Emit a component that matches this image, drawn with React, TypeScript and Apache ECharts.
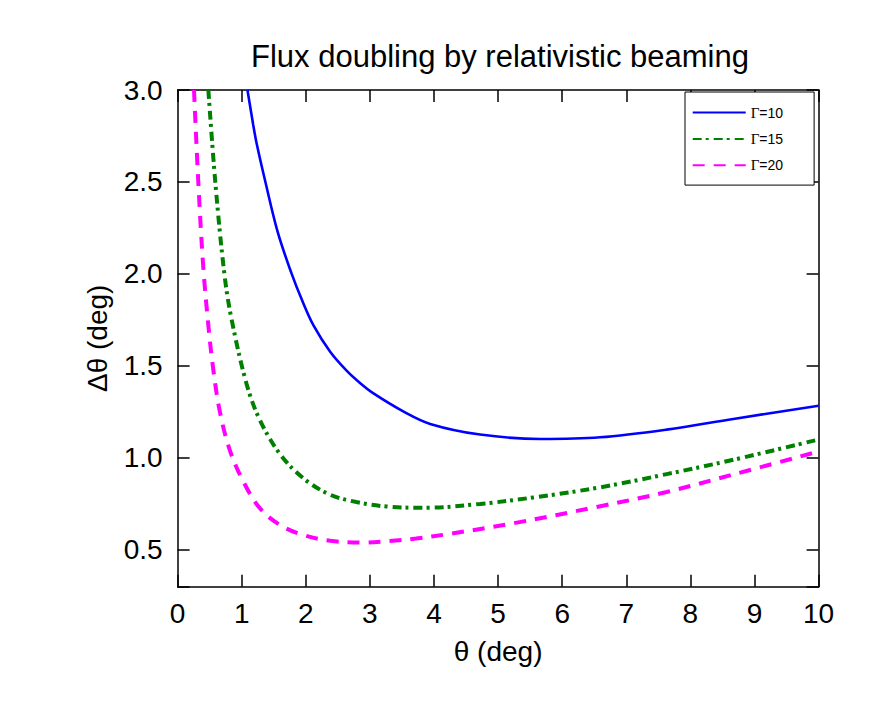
import React, { useEffect, useRef } from "react";
import * as echarts from "echarts";

// theta (deg) vs delta-theta (deg)
const gamma10: [number, number][] = [
  [1.09, 3.0], [1.18, 2.81], [1.23, 2.715], [1.37, 2.5], [1.56, 2.23], [1.77, 2.01],
  [1.95, 1.85], [2.12, 1.72], [2.38, 1.577], [2.64, 1.473], [2.85, 1.406], [3.05, 1.352],
  [3.52, 1.253], [3.94, 1.185], [4.72, 1.127], [5.66, 1.103], [6.59, 1.112],
  [7.63, 1.154], [8.67, 1.212], [10.0, 1.284],
];
const gamma15: [number, number][] = [
  [0.48, 3.0], [0.588, 2.5], [0.73, 2.0], [0.844, 1.75], [1.078, 1.4],
  [1.285, 1.205], [1.6, 1.02], [1.96, 0.89], [2.38, 0.8], [2.79, 0.76],
  [3.26, 0.736], [3.85, 0.729], [4.72, 0.75], [5.55, 0.785], [6.59, 0.84],
  [7.63, 0.912], [8.67, 0.99], [10.0, 1.1],
];
const gamma20: [number, number][] = [
  [0.256, 3.0], [0.323, 2.5], [0.4, 2.04], [0.48, 1.72], [0.557, 1.48],
  [0.66, 1.25], [0.817, 1.04], [1.025, 0.872], [1.285, 0.726], [1.6, 0.635],
  [1.96, 0.581], [2.38, 0.55], [2.85, 0.54], [3.31, 0.548], [3.72, 0.562],
  [4.2, 0.585], [5.24, 0.645], [6.56, 0.735], [7.63, 0.815], [8.67, 0.91],
  [10.0, 1.035],
];
const seriesNames = ["Γ=10", "Γ=15", "Γ=20"];
const seriesColors = ["#0000ff", "#008000", "#ff00ff"];
const xTicks = [0, 1, 2, 3, 4, 5, 6, 7, 8, 9, 10];

const FONT = "Liberation Sans, Arial, Helvetica, sans-serif";

const frameLine = () => ({ show: true, onZero: false, lineStyle: { color: "#000", width: 1.5 } });
const innerTick = () => ({ show: true, inside: true, length: 12, lineStyle: { color: "#000", width: 1.5 } });

export default function App() {
  const ref = useRef<HTMLDivElement>(null);
  useEffect(() => {
    if (!ref.current) return;
    const chart = echarts.init(ref.current, undefined, { renderer: "svg" });
    const yFmt = (v: number) =>
      Math.abs(v * 2 - Math.round(v * 2)) < 1e-6 ? v.toFixed(1) : "";
    chart.setOption({
      animation: false,
      backgroundColor: "#fff",
      title: {
        text: "Flux doubling by relativistic beaming",
        left: 251,
        top: 41,
        padding: 0,
        textStyle: { fontFamily: FONT, fontSize: 31, fontWeight: "normal", color: "#000" },
      },
      grid: { left: 177.6, right: 70.4, top: 90, bottom: 124.3, containLabel: false },
      legend: {
        orient: "vertical",
        left: 685,
        top: 92,
        padding: [13, 31, 12.3, 6.7],
        itemWidth: 53,
        itemHeight: 14,
        itemGap: 11.4,
        backgroundColor: "#fff",
        borderColor: "#000",
        borderWidth: 1,
        borderRadius: 0,
        itemStyle: { opacity: 0 },
        data: seriesNames,
        formatter: (name: string) => "{g|Γ}" + name.slice(1),
        textStyle: {
          fontFamily: FONT,
          fontSize: 14,
          color: "#000",
          rich: { g: { fontFamily: "Liberation Serif, Times New Roman, serif", fontSize: 15, color: "#000" } },
        },
      },
      xAxis: [
        {
          type: "value",
          min: 0,
          max: 10,
          interval: 1,
          position: "bottom",
          name: "θ (deg)",
          nameLocation: "middle",
          nameGap: 51,
          nameTextStyle: { fontFamily: FONT, fontSize: 28, color: "#000" },
          axisLine: frameLine(),
          axisTick: innerTick(),
          splitLine: { show: false },
          axisLabel: {
            margin: 13,
            fontFamily: FONT,
            fontSize: 28,
            color: "#000",
            formatter: (v: number) => (xTicks.indexOf(v) >= 0 ? String(v) : ""),
          },
        },
        {
          type: "value",
          min: 0,
          max: 10,
          interval: 1,
          position: "top",
          axisLine: frameLine(),
          axisTick: innerTick(),
          splitLine: { show: false },
          axisLabel: { show: false },
        },
      ],
      yAxis: [
        {
          type: "value",
          min: 0.3,
          max: 3.0,
          splitNumber: 5,
          position: "left",
          name: "Δθ (deg)",
          nameLocation: "middle",
          nameGap: 66,
          nameTextStyle: { fontFamily: FONT, fontSize: 28, color: "#000" },
          axisLine: frameLine(),
          axisTick: innerTick(),
          splitLine: { show: false },
          axisLabel: {
            margin: 15,
            padding: [8, 0, 0, 0],
            fontFamily: FONT,
            fontSize: 28,
            color: "#000",
            formatter: yFmt,
          },
        },
        {
          type: "value",
          min: 0.3,
          max: 3.0,
          splitNumber: 5,
          position: "right",
          axisLine: frameLine(),
          axisTick: innerTick(),
          splitLine: { show: false },
          axisLabel: { show: false },
        },
      ],
      series: [
        {
          name: seriesNames[0],
          type: "line",
          data: gamma10,
          smooth: 0.35,
          symbol: "none",
          clip: true,
          lineStyle: { color: seriesColors[0], width: 2.6, type: "solid" },
          itemStyle: { color: seriesColors[0] },
        },
        {
          name: seriesNames[1],
          type: "line",
          data: gamma15,
          smooth: 0.35,
          symbol: "none",
          clip: true,
          lineStyle: { color: seriesColors[1], width: 4, type: [9, 4, 3, 5] },
          itemStyle: { color: seriesColors[1] },
        },
        {
          name: seriesNames[2],
          type: "line",
          data: gamma20,
          smooth: 0.35,
          symbol: "none",
          clip: true,
          lineStyle: { color: seriesColors[2], width: 4, type: [12, 9] },
          itemStyle: { color: seriesColors[2] },
        },
      ],
    });
    return () => chart.dispose();
  }, []);
  return (
    <div
      ref={ref}
      style={{ position: "absolute", left: 0, top: 0, width: 889, height: 711 }}
    />
  );
}
